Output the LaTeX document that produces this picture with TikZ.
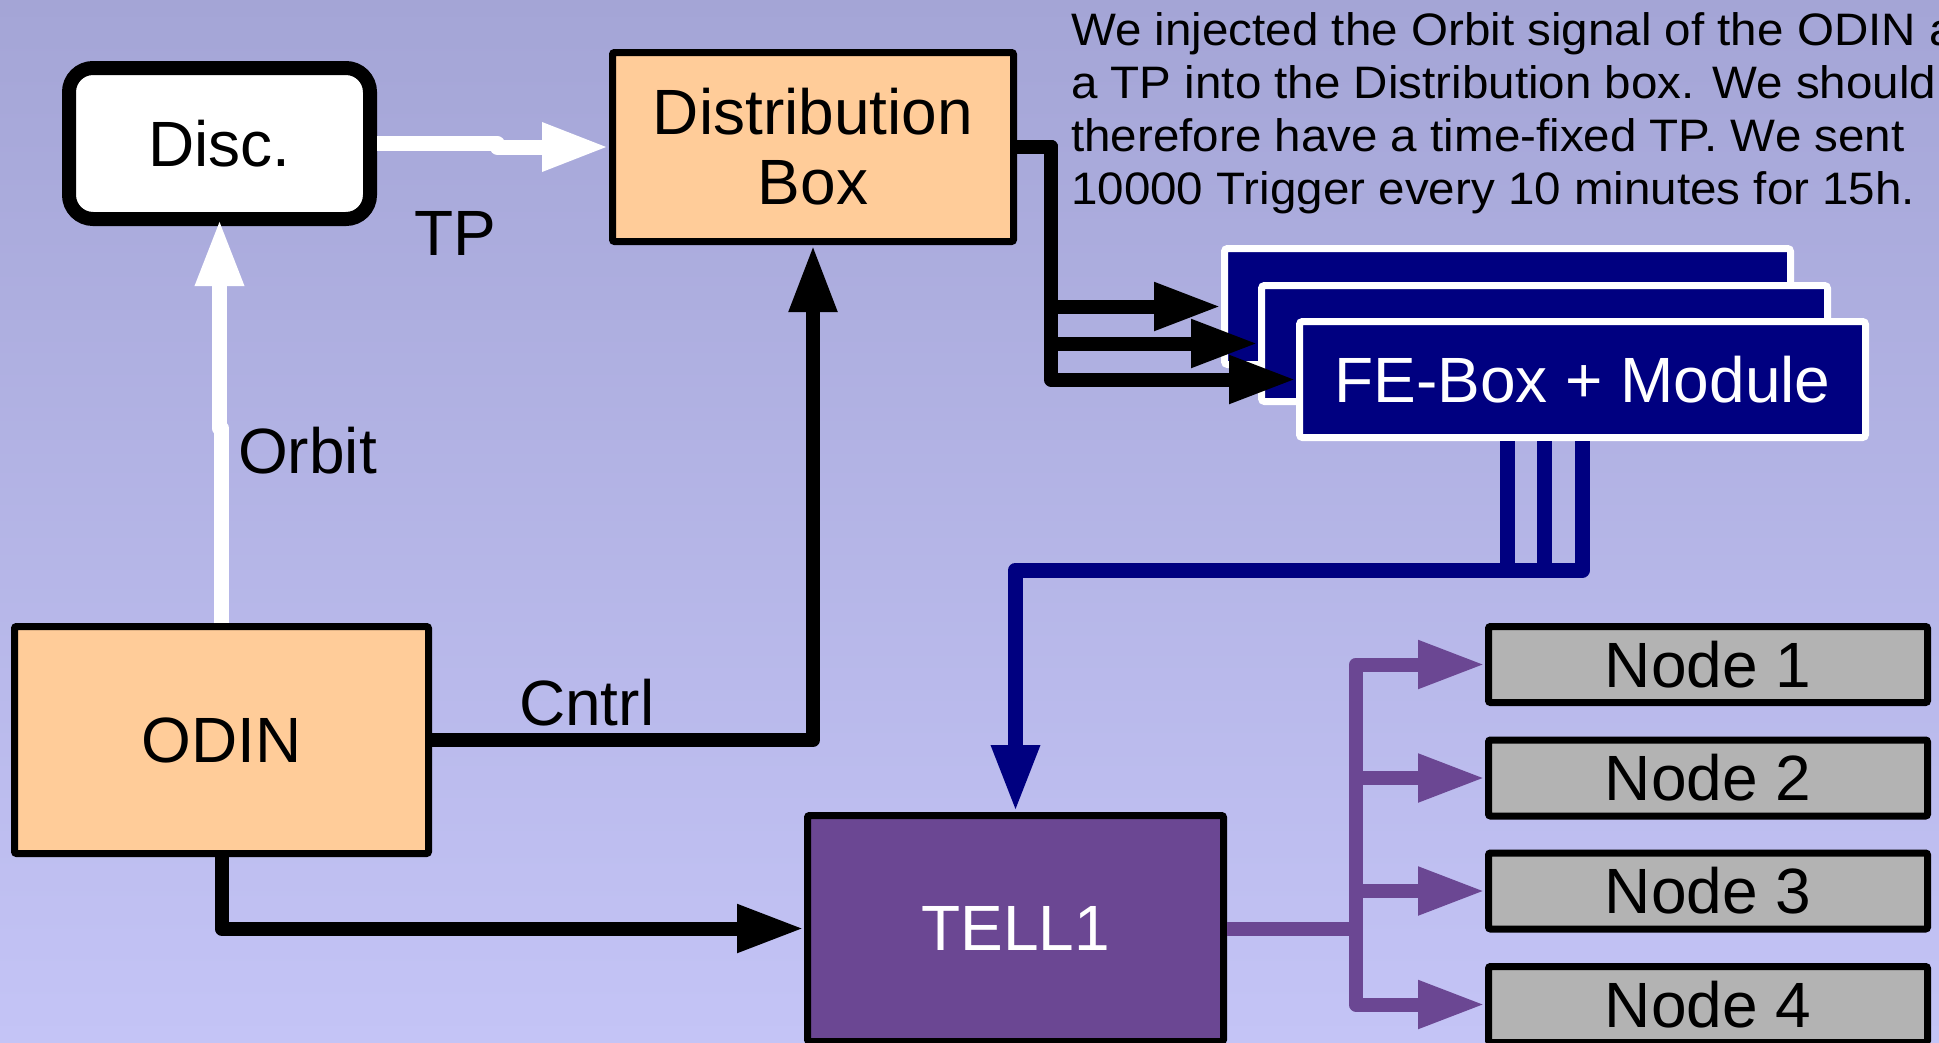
\documentclass[tikz,border=0pt]{standalone}
\usepackage{fontspec}
\setmainfont{Liberation Sans}
\usetikzlibrary{arrows.meta}

\definecolor{bgtop}{RGB}{164,165,214}
\definecolor{bgbot}{RGB}{196,196,246}
\definecolor{peach}{RGB}{255,204,153}
\definecolor{fenavy}{RGB}{0,0,128}
\definecolor{tellpurple}{RGB}{107,71,147}
\definecolor{nodegray}{RGB}{179,179,179}

\tikzset{
  bigfont/.style={font=\fontsize{64}{70}\selectfont},
  block/.style={draw=black, line width=7pt, inner sep=0pt, rounded corners=2pt,
                bigfont, align=center},
  peachbox/.style={block, fill=peach},
  discbox/.style={draw=black, fill=white, line width=14pt, rounded corners=24pt,
                  inner sep=0pt, minimum width=301pt, minimum height=151pt, bigfont},
  tellbox/.style={block, fill=tellpurple, text=white,
                  minimum width=416pt, minimum height=226pt},
  febox/.style={draw=white, fill=fenavy, text=white, line width=7pt, rounded corners=3pt,
                inner sep=0pt, minimum width=566pt, minimum height=116pt, bigfont},
  pcnode/.style={block, fill=nodegray, minimum width=439pt, minimum height=76pt},
  wire/.style={line width=15pt, line join=round},
  headarrow/.style={-{Triangle[length=67pt,width=45pt]}},
  label/.style={anchor=base west, inner sep=0pt, bigfont},
}

\begin{document}
\begin{tikzpicture}[x=1pt,y=-1pt]
\useasboundingbox (0,0) rectangle (1939,1042);
\clip (0,0) rectangle (1939,1042);
\shade[top color=bgtop, bottom color=bgbot] (0,0) rectangle (1939,1042);

% blocks
\node[discbox] (disc) at (219.5,143.5) {Disc.};
\node[peachbox, minimum width=401pt, minimum height=189pt] (dist) at (813,147) {Distribution\\Box};
\node[peachbox, minimum width=414pt, minimum height=227pt] (odin) at (221.5,740) {ODIN};
\node[tellbox] (tell) at (1015.5,928.5) {TELL1};

% stacked front-end boxes, back to front
\node[febox] (fe1) at (1507.5,306.5) {FE-Box + Module};
\node[febox] (fe2) at (1544.5,343.5) {FE-Box + Module};
\node[febox] (fe3) at (1582.5,379.5) {FE-Box + Module};

% farm nodes
\node[pcnode] (n1) at (1708,664.5) {Node 1};
\node[pcnode] (n2) at (1708,778) {Node 2};
\node[pcnode] (n3) at (1708,891) {Node 3};
\node[pcnode] (n4) at (1708,1004.5) {Node 4};

% explanatory note
\node[anchor=base west, inner sep=0pt] (note) at (1071,45)
  {\fontsize{45.5}{53.3}\selectfont\scalebox{1.045}[1]{\begin{tabular}[t]{@{}l@{}}
  We injected the Orbit signal of the ODIN as\\
  a TP into the Distribution box. We should\\
  therefore have a time-fixed TP. We sent\\
  10000 Trigger every 10 minutes for 15h.
  \end{tabular}}};

% white signal lines
\draw[wire, white, headarrow] (disc.east) -- ++(120,0) |- (dist.west);
\draw[wire, white, headarrow, shorten >=-7pt] (odin.north) -- ++(0,-195) -| (disc.south);

% black control lines
\draw[wire, line width=14pt, black, headarrow] (odin.east) -| (dist.south);
\draw[wire, line width=14pt, black, headarrow] (odin.south) |- (tell.west);
\coordinate (fanx) at (1051,0);
\foreach \fe in {fe1,fe2,fe3}
  \draw[wire, line width=14pt, black, headarrow] (dist.east) -- (fanx |- dist.east) |- (\fe.west);

% front-end readout to TELL1
\coordinate (busrow) at (0,570);
\draw[wire, fenavy] (fe1.south |- fe3.south) -- (fe1.south |- busrow);
\draw[wire, fenavy] (fe2.south |- fe3.south) -- (fe2.south |- busrow);
\draw[wire, fenavy, headarrow] (fe3.south) -- (fe3.south |- busrow) -| (tell.north);

% TELL1 output to the farm nodes
\coordinate (busx) at (1356,0);
\foreach \n in {n1,n2,n3,n4}
  \draw[wire, line width=14pt, tellpurple, headarrow] (tell.east) -- (busx |- tell.east) |- (\n.west);

% line labels
\node[label] (tplab) at (414,255) {TP};
\node[label] (orbitlab) at (238,473) {Orbit};
\node[label] (cntrllab) at (519,725.5) {Cntrl};
\end{tikzpicture}
\end{document}
